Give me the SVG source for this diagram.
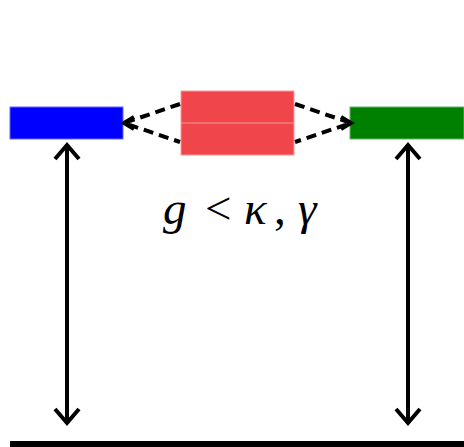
<svg xmlns="http://www.w3.org/2000/svg" width="464" height="447" viewBox="0 0 464 447">
<style>
.dash{fill:none;stroke:#000;stroke-width:4;stroke-dasharray:10,6}
.arr{fill:none;stroke:#000;stroke-width:4}
.head{fill:none;stroke:#000;stroke-width:4;stroke-linejoin:miter}
</style>
<rect width="464" height="447" fill="#fff"/>
<g id="node-blue"><rect x="10" y="107" width="113" height="32" fill="#0000ff" stroke="#6666ff" stroke-width="1"/></g>
<g id="node-red"><rect x="181" y="91" width="113" height="64" fill="#f0464b" stroke="#f59a9c" stroke-width="1"/><line x1="181" y1="123" x2="294" y2="123" stroke="#f59a9c" stroke-width="1"/></g>
<g id="node-green"><rect x="350" y="107" width="114" height="32" fill="#008000" stroke="#66b366" stroke-width="1"/></g>
<g id="connectors">
<path class="dash" d="M180,104 L124,123 L180,142"/>
<path class="head" d="M134,117 L124,123 L134,129"/>
<path class="dash" d="M295,104 L351,123 L295,142"/>
<path class="head" d="M341,117 L351,123 L341,129"/>
<line class="arr" x1="67" y1="146" x2="67" y2="421"/>
<path class="head" d="M55,159 L67,145 L79,159"/>
<path class="head" d="M55,409 L67,423 L79,409"/>
<line class="arr" x1="408" y1="146" x2="408" y2="421"/>
<path class="head" d="M396,159 L408,145 L420,159"/>
<path class="head" d="M396,409 L408,423 L420,409"/>
</g>
<g id="ground"><rect x="10" y="441" width="454" height="6" fill="#000"/></g>
<g id="label"><text font-family="Liberation Serif, DejaVu Serif, serif" font-size="47" fill="#000" y="224"><tspan x="163" font-style="italic">g</tspan><tspan x="205">&lt;</tspan><tspan x="244" font-style="italic">κ</tspan><tspan x="274">,</tspan><tspan x="298" font-style="italic">γ</tspan></text></g>
</svg>
